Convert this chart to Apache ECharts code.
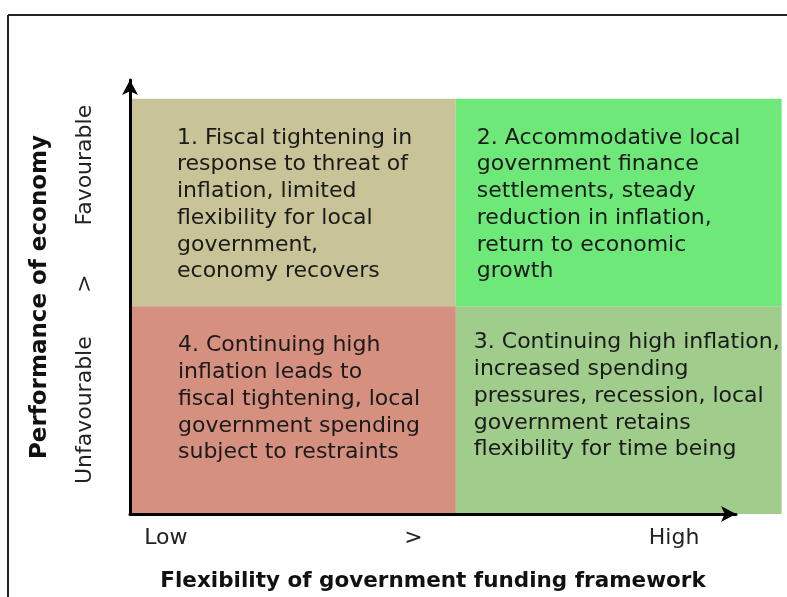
<!DOCTYPE html>
<html>
<head>
<meta charset="utf-8">
<script src="https://cdn.jsdelivr.net/npm/echarts@6/dist/echarts.min.js"></script>
<style>
  html, body { margin: 0; padding: 0; background: #fff; }
  #main { width: 787px; height: 597px; }
</style>
</head>
<body>
<div id="main"></div>
<script>
// 象限范围 (0..2 on both axes)
const quadXStart = [0, 1, 1, 0];
const quadXEnd = [1, 2, 2, 1];
const quadYStart = [1, 1, 0, 0];
const quadYEnd = [2, 2, 1, 1];

// 象限文字
const quadTexts = [
  ['1. Fiscal tightening in', 'response to threat of', 'inflation, limited', 'flexibility for local', 'government,', 'economy recovers'],
  ['2. Accommodative local', 'government finance', 'settlements, steady', 'reduction in inflation,', 'return to economic', 'growth'],
  ['3. Continuing high inflation,', 'increased spending', 'pressures, recession, local', 'government retains', 'flexibility for time being'],
  ['4. Continuing high', 'inflation leads to', 'fiscal tightening, local', 'government spending', 'subject to restraints']
];

// 坐标轴标签
const xTickValues = [0.11, 0.87, 1.67];
const xTickLabels = ['Low', '>', 'High'];
const yTickValues = [0.5, 1.11, 1.68];
const yTickLabels = ['Unfavourable', '>', 'Favourable'];
const xAxisMax = 1.86;
const yAxisMax = 2.09;

// 颜色与文字偏移
const quadColors = ['#c8c497', '#6ee878', '#a0cc8c', '#d69080'];
const textPad = [[47, 26], [21, 26], [18, 23], [48, 26]];

const myChart = echarts.init(document.getElementById('main'));

myChart.setOption({
  animation: false,
  grid: { left: 130, right: 51, top: 80, bottom: 79 },
  xAxis: {
    type: 'value',
    min: 0,
    max: xAxisMax,
    z: 5,
    name: 'Flexibility of government funding framework',
    nameLocation: 'middle',
    nameGap: 56,
    nameTextStyle: { fontFamily: 'DejaVu Sans', fontWeight: 'bold', fontSize: 21.5, color: '#111' },
    // 轴线 + 箭头
    axisLine: { show: true, symbol: ['none', 'arrow'], symbolSize: [12, 15], lineStyle: { color: '#000', width: 3 } },
    axisTick: { show: false },
    splitLine: { show: false },
    axisLabel: {
      customValues: xTickValues,
      formatter: (v) => xTickLabels[xTickValues.indexOf(v)],
      margin: 13,
      fontFamily: 'DejaVu Sans',
      fontSize: 22,
      color: '#222'
    }
  },
  yAxis: {
    type: 'value',
    min: 0,
    max: yAxisMax,
    z: 5,
    name: 'Performance of economy',
    nameLocation: 'middle',
    nameRotate: 90,
    nameGap: 78,
    nameTextStyle: { fontFamily: 'DejaVu Sans', fontWeight: 'bold', fontSize: 23, color: '#111' },
    axisLine: { show: true, symbol: ['none', 'arrow'], symbolSize: [12, 15], lineStyle: { color: '#000', width: 3 } },
    axisTick: { show: false },
    splitLine: { show: false },
    axisLabel: {
      customValues: yTickValues,
      formatter: (v) => yTickLabels[yTickValues.indexOf(v)],
      rotate: 90,
      margin: 34,
      fontFamily: 'DejaVu Sans',
      fontSize: 22,
      color: '#222'
    }
  },
  // 外框
  graphic: [
    { type: 'line', shape: { x1: 8, y1: 15, x2: 8, y2: 597 }, style: { stroke: '#222', lineWidth: 2 } },
    { type: 'line', shape: { x1: 8, y1: 15, x2: 787, y2: 15 }, style: { stroke: '#222', lineWidth: 2 } }
  ],
  series: [{
    type: 'custom',
    clip: false,
    z: 1,
    data: quadXStart.map((x, i) => [x, quadXEnd[i], quadYStart[i], quadYEnd[i]]),
    renderItem: function (params, api) {
      const i = params.dataIndex;
      const p0 = api.coord([api.value(0), api.value(3)]);
      const p1 = api.coord([api.value(1), api.value(2)]);
      return {
        type: 'group',
        children: [{
          type: 'rect',
          shape: { x: p0[0], y: p0[1], width: p1[0] - p0[0], height: p1[1] - p0[1] },
          style: { fill: quadColors[i] }
        }, {
          type: 'text',
          x: p0[0] + textPad[i][0],
          y: p0[1] + textPad[i][1],
          style: {
            text: quadTexts[i].join('\n'),
            fontFamily: 'DejaVu Sans',
            fontSize: 22,
            lineHeight: 26.7,
            fill: '#1a1a1a',
            verticalAlign: 'top'
          }
        }]
      };
    }
  }]
});
</script>
</body>
</html>
